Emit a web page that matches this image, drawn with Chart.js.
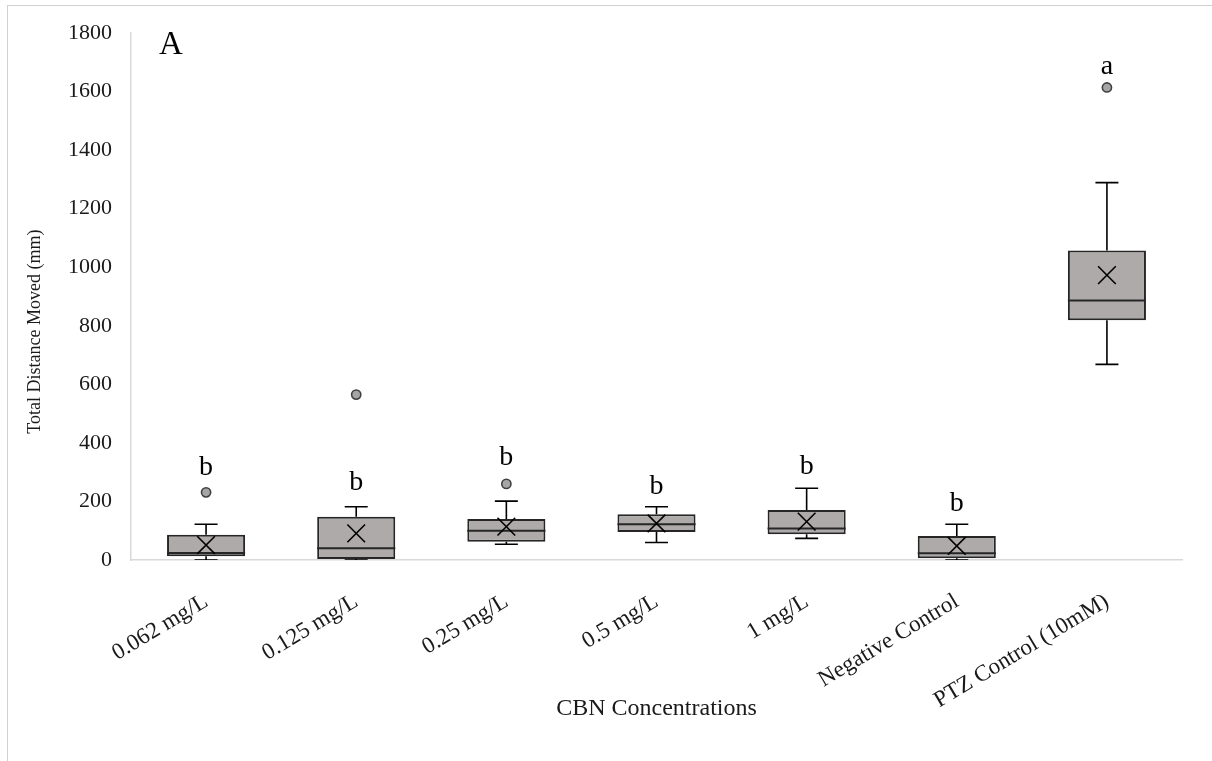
<!DOCTYPE html>
<html>
<head>
<meta charset="utf-8">
<script src="https://cdn.jsdelivr.net/npm/chart.js@4.4.1/dist/chart.umd.min.js"></script>
<style>
  html, body { margin: 0; padding: 0; background: #ffffff; overflow: hidden; }
  #wrap { width: 1212px; height: 761px; position: relative; }
</style>
</head>
<body>
<div id="wrap"><canvas id="chart" width="1212" height="761"></canvas></div>
<script>
// Treatment groups on the x axis
const categories = ["0.062 mg/L", "0.125 mg/L", "0.25 mg/L", "0.5 mg/L", "1 mg/L", "Negative Control", "PTZ Control (10mM)"];

// Box-plot summary per group (mm)
const whiskerLow  = [0, 0, 54, 60, 74, 0, 668];
const quartile1   = [13, 3, 62, 96, 88, 6, 819];
const medians     = [24, 40, 100, 122, 108, 23, 886];
const quartile3   = [86, 148, 140, 156, 171, 82, 1057];
const whiskerHigh = [122, 182, 201, 182, 245, 122, 1289];
const means       = [51, 91, 114, 125, 131, 48, 973];
const outliers    = [[231], [565], [260], [], [], [], [1614]];

// Significance letters and the value each one sits at
const letters     = ["b", "b", "b", "b", "b", "b", "a"];
const letterAt    = [314, 263, 348, 250, 319, 191, 1685];

// Y axis ticks
const yTicks = [0, 200, 400, 600, 800, 1000, 1200, 1400, 1600, 1800];

const SERIF = "'Liberation Serif', 'Times New Roman', serif";
const INK = "#1a1a1a";
const Y_TITLE = "Total Distance Moved (mm)";

const outlierPoints = [];
outliers.forEach((list, i) => list.forEach(v => outlierPoints.push({ x: categories[i], y: v })));

// Whiskers, caps and median lines, drawn right after the boxes
const whiskerPlugin = {
  id: "whiskers",
  afterDatasetDraw(chart, args) {
    if (args.index !== 0) return;
    const { ctx, chartArea } = chart;
    const y = chart.scales.y;
    const meta = chart.getDatasetMeta(0);
    ctx.save();
    ctx.beginPath();
    ctx.rect(chartArea.left, chartArea.top - 10, chartArea.right - chartArea.left, chartArea.bottom - chartArea.top + 10);
    ctx.clip();
    meta.data.forEach((bar, i) => {
      const x = bar.x;
      const half = bar.width / 2;
      const cap = 11.5;
      ctx.strokeStyle = "#000000";
      ctx.lineWidth = 1.6;
      ctx.beginPath();
      ctx.moveTo(x, y.getPixelForValue(quartile3[i]));
      ctx.lineTo(x, y.getPixelForValue(whiskerHigh[i]));
      ctx.moveTo(x - cap, y.getPixelForValue(whiskerHigh[i]));
      ctx.lineTo(x + cap, y.getPixelForValue(whiskerHigh[i]));
      ctx.moveTo(x, y.getPixelForValue(quartile1[i]));
      ctx.lineTo(x, y.getPixelForValue(whiskerLow[i]));
      ctx.moveTo(x - cap, y.getPixelForValue(whiskerLow[i]));
      ctx.lineTo(x + cap, y.getPixelForValue(whiskerLow[i]));
      ctx.stroke();
      ctx.strokeStyle = "#262626";
      ctx.lineWidth = 2;
      ctx.beginPath();
      ctx.moveTo(x - half, y.getPixelForValue(medians[i]));
      ctx.lineTo(x + half, y.getPixelForValue(medians[i]));
      ctx.stroke();
    });
    ctx.restore();
  }
};

// Significance letters, panel letter, y-axis title and outer frame
const annotationPlugin = {
  id: "annotations",
  beforeDraw(chart) {
    const { ctx } = chart;
    ctx.save();
    ctx.fillStyle = "#ffffff";
    ctx.fillRect(0, 0, chart.width, chart.height);
    ctx.strokeStyle = "#d0d0d0";
    ctx.lineWidth = 1;
    ctx.strokeRect(7.5, 5.5, chart.width + 20, chart.height + 20);
    ctx.restore();
  },
  afterDraw(chart) {
    const { ctx, chartArea } = chart;
    const x = chart.scales.x;
    const y = chart.scales.y;
    ctx.save();
    ctx.fillStyle = "#000000";
    ctx.textAlign = "center";
    ctx.textBaseline = "middle";
    ctx.font = "28px " + SERIF;
    letters.forEach((t, i) => {
      ctx.fillText(t, x.getPixelForValue(i), y.getPixelForValue(letterAt[i]));
    });
    ctx.textAlign = "left";
    ctx.textBaseline = "alphabetic";
    ctx.font = "33px " + SERIF;
    ctx.fillText("A", chartArea.left + 28, chartArea.top + 21);

    // y-axis title, rotated, sitting a little below the axis midpoint
    ctx.fillStyle = INK;
    ctx.font = "18px " + SERIF;
    ctx.textAlign = "center";
    ctx.textBaseline = "middle";
    ctx.translate(35, y.getPixelForValue(780));
    ctx.rotate(-Math.PI / 2);
    ctx.fillText(Y_TITLE, 0, 0);
    ctx.restore();
  }
};

new Chart(document.getElementById("chart"), {
  data: {
    labels: categories,
    datasets: [
      {
        type: "bar",
        label: "Interquartile range",
        data: categories.map((c, i) => [quartile1[i], quartile3[i]]),
        backgroundColor: "#aeaaaa",
        borderColor: "#262626",
        borderWidth: 2,
        borderSkipped: false,
        barPercentage: 0.52,
        categoryPercentage: 1.0,
        order: 3
      },
      {
        type: "line",
        label: "Mean",
        data: means,
        showLine: false,
        pointStyle: "crossRot",
        pointRadius: 12.5,
        pointBorderWidth: 1.6,
        pointBorderColor: "#000000",
        pointBackgroundColor: "#000000",
        order: 2
      },
      {
        type: "line",
        label: "Outliers",
        data: outlierPoints,
        showLine: false,
        pointStyle: "circle",
        pointRadius: 4.6,
        pointBorderWidth: 1.6,
        pointBorderColor: "#404040",
        pointBackgroundColor: "#a5a5a5",
        order: 1
      }
    ]
  },
  options: {
    responsive: false,
    devicePixelRatio: 1,
    animation: false,
    layout: { padding: { left: 0, top: 33, right: 30, bottom: 0 } },
    plugins: {
      legend: { display: false },
      tooltip: { enabled: false }
    },
    scales: {
      x: {
        type: "category",
        offset: true,
        grid: { display: false, drawTicks: false },
        border: { display: true, color: "#d9d9d9", width: 1.5 },
        ticks: {
          color: INK,
          font: { family: SERIF, size: 23 },
          minRotation: 31,
          maxRotation: 31,
          padding: 28,
          autoSkip: false
        },
        title: {
          display: true,
          text: "CBN Concentrations",
          color: INK,
          font: { family: SERIF, size: 24 },
          padding: { top: 4, bottom: 38 }
        },
        afterFit(scale) { scale.height = 201; }
      },
      y: {
        min: 0,
        max: 1800,
        grid: { display: false, drawTicks: false },
        border: { display: true, color: "#d9d9d9", width: 1.5 },
        afterBuildTicks(scale) { scale.ticks = yTicks.map(v => ({ value: v })); },
        ticks: {
          color: INK,
          font: { family: SERIF, size: 22 },
          padding: 19,
          callback: (v) => String(v)
        },
        title: { display: false },
        afterFit(scale) { scale.width = 131; }
      }
    }
  },
  plugins: [whiskerPlugin, annotationPlugin]
});
</script>
</body>
</html>
